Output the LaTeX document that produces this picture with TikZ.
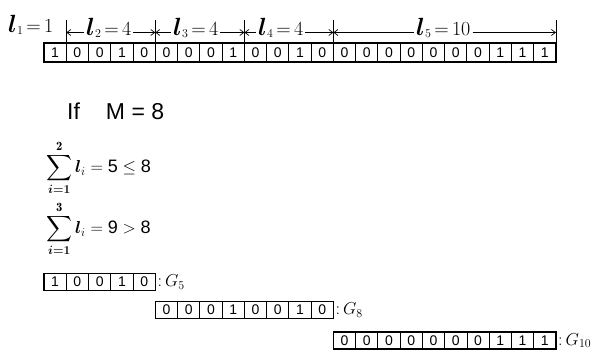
\documentclass[tikz,border=0pt]{standalone}
\usepackage{fontspec}
\usepackage{amsmath}
\usepackage{amssymb}
\setsansfont{Liberation Sans}
\usetikzlibrary{arrows.meta,positioning,calc}

% l_k = n above a run of the string
\newcommand{\seglen}[2]{{\fontsize{27}{27}\selectfont$\boldsymbol{l}$}{\fontsize{12}{12}\selectfont\raisebox{-2pt}{#1}}{\fontsize{20}{20}\selectfont\,=\,#2}}

\begin{document}
\begin{tikzpicture}[x=1pt,y=-1pt,
  bit/.style={draw, line width=0.9pt, minimum width=22.26pt, minimum height=19pt,
    inner sep=0pt, outer sep=0pt, anchor=west, font=\sffamily\fontsize{14}{14}\selectfont},
  sbit/.style={bit, minimum height=17pt},
  rowbox/.style={line width=1.4pt},
  tick/.style={line width=0.8pt},
  dim/.style={line width=0.7pt, -{Straight Barb[length=4pt,width=6pt]}},
  seg/.style={inner xsep=2pt, inner ysep=0pt, anchor=base west},
  glab/.style={right=1pt of #1, inner sep=1pt, font=\fontsize{18}{18}\selectfont},
  sumeq/.style={anchor=west, inner sep=0pt, font=\fontsize{18}{18}\selectfont}]

  \useasboundingbox (0,0) rectangle (596,358);

  % the coded string
  \foreach \b [count=\i] in {1,0,0,1,0,0,0,0,1,0,0,1,0,0,0,0,0,0,0,0,1,1,1}
    \node[bit] (b\i) at ({44+(\i-1)*22.26},52.5) {\b};
  \draw[rowbox] (b1.north west) rectangle (b23.south east);

  % run boundaries
  \foreach \k/\n in {1/1,2/5,3/9,4/13,5/23} {
    \coordinate (t\k) at ($(b\n.north east)+(0,-22.5)$);
    \coordinate (a\k) at ($(b\n.north east)+(0,-10.5)$);
    \draw[tick] (b\n.north east) -- (t\k);
  }

  \node[seg] (l1) at (6,33) {\seglen{1}{1}};
  \node[seg] (l2) at (84,36) {\seglen{2}{4}};
  \node[seg] (l3) at (171,36) {\seglen{3}{4}};
  \node[seg] (l4) at (256,36) {\seglen{4}{4}};
  \node[seg] (l5) at (414,36) {\seglen{5}{10}};

  \draw[dim] (l2.west |- a1) -- (a1);
  \draw[dim] (l2.east |- a2) -- (a2);
  \draw[dim] (l3.west |- a2) -- (a2);
  \draw[dim] (l3.east |- a3) -- (a3);
  \draw[dim] (l4.west |- a3) -- (a3);
  \draw[dim] (l4.east |- a4) -- (a4);
  \draw[dim] (l5.west |- a4) -- (a4);
  \draw[dim] (l5.east |- a5) -- (a5);

  % condition
  \node[anchor=base west, inner sep=0pt, font=\sffamily\fontsize{23}{23}\selectfont] (cond) at (67,120) {If\hspace{26pt}M = 8};
  \node[sumeq] (s1) at (46,168) {$\displaystyle\sum_{\boldsymbol{i=1}}^{\mathbf{2}}\boldsymbol{l}_i = \textsf{5}\le\textsf{8}$};
  \node[sumeq] (s2) at (46,229) {$\displaystyle\sum_{\boldsymbol{i=1}}^{\mathbf{3}}\boldsymbol{l}_i = \textsf{9} > \textsf{8}$};

  % the three code words
  \foreach \b [count=\i] in {1,0,0,1,0}
    \node[sbit] (p\i) at ({44+(\i-1)*22.26},282) {\b};
  \draw[rowbox] (p1.north west) rectangle (p5.south east);
  \node[glab=p5] (g5) {:\,$G_5$};

  \foreach \b [count=\i] in {0,0,0,1,0,0,1,0}
    \node[sbit] (q\i) at ({155.3+(\i-1)*22.26},310) {\b};
  \draw[rowbox] (q1.north west) rectangle (q8.south east);
  \node[glab=q8] (g8) {:\,$G_8$};

  \foreach \b [count=\i] in {0,0,0,0,0,0,0,1,1,1}
    \node[sbit] (r\i) at ({333.4+(\i-1)*22.26},340.5) {\b};
  \draw[rowbox] (r1.north west) rectangle (r10.south east);
  \node[glab=r10] (g10) {:\,$G_{10}$};
\end{tikzpicture}
\end{document}
